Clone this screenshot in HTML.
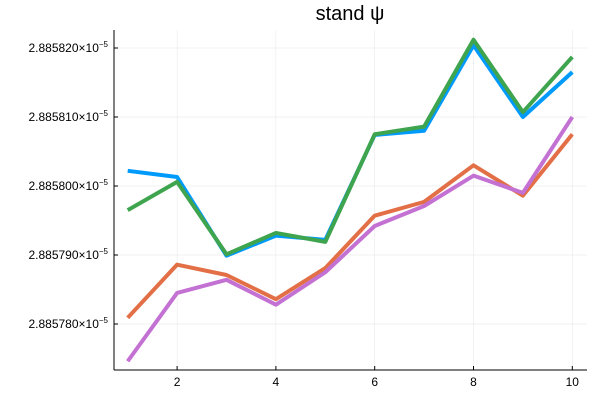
<!DOCTYPE html>
<html><head><meta charset="utf-8"><style>
body{margin:0;background:#fff;}
svg{display:block;font-family:"Liberation Sans","DejaVu Sans",sans-serif;}
</style></head><body>
<svg id="chart" width="600" height="400" viewBox="0 0 600 400">
<rect width="600" height="400" fill="#fff"/>
<text x="350" y="20" text-anchor="middle" font-size="20" fill="#000">stand ψ</text>
<g id="grid"></g><g id="axes"></g><g id="series"></g>
</svg>
<script>
const xs=[1,2,3,4,5,6,7,8,9,10];
const xTicks=[2,4,6,8,10];
const yTicks=[780,790,800,810,820];
const yTickLabels=["2.885780","2.885790","2.885800","2.885810","2.885820"];
const seriesBlue=[802.2,801.3,789.9,792.8,792.2,807.4,808.0,820.4,810.0,816.5];
const seriesOrange=[780.9,788.6,787.1,783.6,788.1,795.7,797.7,803.0,798.6,807.5];
const seriesGreen=[796.5,800.6,790.1,793.2,791.9,807.5,808.6,821.2,810.7,818.7];
const seriesPurple=[774.6,784.5,786.4,782.8,787.5,794.2,797.1,801.5,799.0,810.0];
const L=114,R=587,T=30,B=370;
const X=v=>127.7+(v-1)*49.4;
const Y=v=>324-(v-780)*6.9;
const ns="http://www.w3.org/2000/svg";
const mk=(t,a,p)=>{const e=document.createElementNS(ns,t);for(const k in a)e.setAttribute(k,a[k]);p.appendChild(e);return e;};
const g=document.getElementById('grid'),ax=document.getElementById('axes'),s=document.getElementById('series');
xTicks.forEach(t=>{
 const l=mk('line',{x1:X(t),x2:X(t),y1:T,y2:B,stroke:'#000','stroke-opacity':0.1,'stroke-width':0.5},g);
 
 
 const tk=mk('line',{x1:X(t),x2:X(t),y1:B,y2:B-4,stroke:'#000'},ax);
 
 
 const tx=mk('text',{x:X(t),y:B+16,'text-anchor':'middle','font-size':12},ax);
 tx.textContent=t;
 
 
});
yTicks.forEach((t,i)=>{
 const l=mk('line',{x1:L,x2:R,y1:Y(t),y2:Y(t),stroke:'#000','stroke-opacity':0.1,'stroke-width':0.5},g);
 
 
 const tk=mk('line',{x1:L,x2:L+4,y1:Y(t),y2:Y(t),stroke:'#000'},ax);
 
 
 const tx=mk('text',{x:L-6,y:Y(t)+4,'text-anchor':'end','font-size':12},ax);
 tx.innerHTML=yTickLabels[i]+'×10<tspan dy="-5" font-size="8">−5</tspan>';
 
 
});
const xa=mk('line',{x1:L,x2:R,y1:B,y2:B,stroke:'#000'},ax);


const ya=mk('line',{x1:L,x2:L,y1:T,y2:B,stroke:'#000'},ax);


[[seriesBlue,'#009AFA','series-1-line'],[seriesOrange,'#E26F46','series-2-line'],[seriesGreen,'#3EA44E','series-3-line'],[seriesPurple,'#C371D2','series-4-line']].forEach(([d,c,n])=>{
 const p=mk('polyline',{points:d.map((v,i)=>X(xs[i])+','+Y(v)).join(' '),fill:'none',stroke:c,'stroke-width':4,'stroke-linejoin':'round'},s);
 
 
});
</script>
</body></html>
